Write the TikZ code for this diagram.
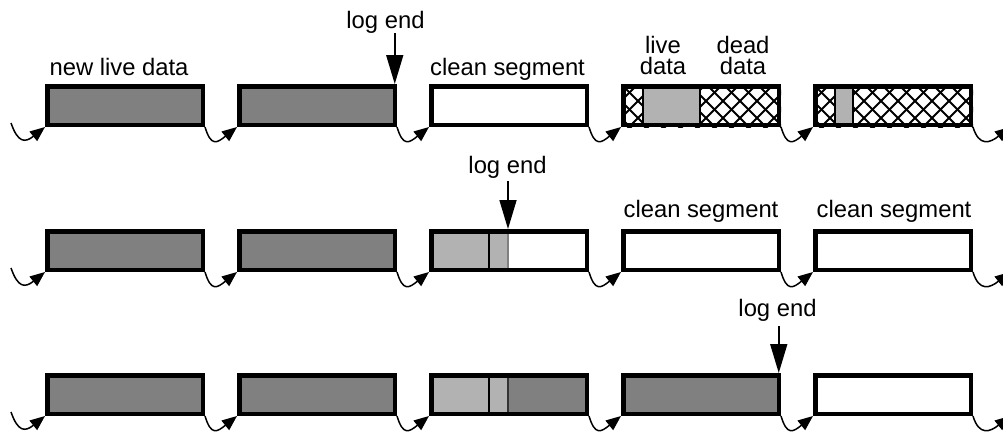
\documentclass[tikz,border=0pt]{standalone}
\usepackage{fontspec}
\setmainfont{Liberation Sans}
\usetikzlibrary{arrows.meta,backgrounds,calc}
\definecolor{darkfill}{gray}{0.5}
\definecolor{lightfill}{gray}{0.7}
\tikzset{
  seg/.style={draw=black, line width=4.5pt, minimum width=155.5pt, minimum height=38.5pt, inner sep=0pt, outer sep=2.25pt},
  darkseg/.style={seg, fill=darkfill},
  whiteseg/.style={seg, fill=white},
  lbl/.style={font=\fontsize{23.8}{21}\selectfont, inner sep=0pt, anchor=base},
  link/.style={line width=1.5pt, -{Triangle[length=15pt,width=12pt]}},
  logarrow/.style={line width=1.6pt, -{Triangle[length=29pt,width=17pt]}},
  hatchline/.style={line width=2pt, black},
  divider/.style={line width=1.6pt, black},
}
\begin{document}
\begin{tikzpicture}[x=1pt,y=-1pt]
\useasboundingbox (0,0) rectangle (1003,431);
\clip (0,0) rectangle (1003,431);

% ---------- row 1 ----------
\node[darkseg]  (r1b1) at (125,105.5) {};
\node[darkseg]  (r1b2) at (317,105.5) {};
\node[whiteseg] (r1b3) at (509,105.5) {};
\node[seg]      (r1b4) at (701,105.5) {};
\node[seg]      (r1b5) at (893,105.5) {};

% ---------- row 2 ----------
\node[darkseg]  (r2b1) at (125,250.5) {};
\node[darkseg]  (r2b2) at (317,250.5) {};
\node[seg]      (r2b3) at (509,250.5) {};
\node[whiteseg] (r2b4) at (701,250.5) {};
\node[whiteseg] (r2b5) at (893,250.5) {};

% ---------- row 3 ----------
\node[darkseg]  (r3b1) at (125,394.5) {};
\node[darkseg]  (r3b2) at (317,394.5) {};
\node[seg]      (r3b3) at (509,394.5) {};
\node[darkseg]  (r3b4) at (701,394.5) {};
\node[whiteseg] (r3b5) at (893,394.5) {};

\begin{pgfonlayer}{background}
  % row 1, box 4: hatched with live data
  \begin{scope}
    \clip (r1b4.north west) rectangle (r1b4.south east);
    \foreach \k in {-3,...,12} {
      \draw[hatchline] ($(r1b4.north west)+(\k*17,0)$) -- ++(50,50);
      \draw[hatchline] ($(r1b4.north west)+(\k*17,0)$) -- ++(-50,50);
    }
  \end{scope}
  \fill[lightfill] ($(r1b4.north west)+(22,0)$) rectangle ($(r1b4.south west)+(79,0)$);
  \draw[divider] ($(r1b4.north west)+(22,0)$) -- ($(r1b4.south west)+(22,0)$);
  \draw[divider] ($(r1b4.north west)+(79,0)$) -- ($(r1b4.south west)+(79,0)$);
  % row 1, box 5
  \begin{scope}
    \clip (r1b5.north west) rectangle (r1b5.south east);
    \foreach \k in {-3,...,12} {
      \draw[hatchline] ($(r1b5.north west)+(\k*17,0)$) -- ++(50,50);
      \draw[hatchline] ($(r1b5.north west)+(\k*17,0)$) -- ++(-50,50);
    }
  \end{scope}
  \fill[lightfill] ($(r1b5.north west)+(22,0)$) rectangle ($(r1b5.south west)+(40,0)$);
  \draw[divider] ($(r1b5.north west)+(22,0)$) -- ($(r1b5.south west)+(22,0)$);
  \draw[divider] ($(r1b5.north west)+(40,0)$) -- ($(r1b5.south west)+(40,0)$);
  % row 2, box 3
  \fill[white] (r2b3.north west) rectangle (r2b3.south east);
  \fill[lightfill] (r2b3.north west) rectangle ($(r2b3.south west)+(79,0)$);
  \draw[divider] ($(r2b3.north west)+(60,0)$) -- ($(r2b3.south west)+(60,0)$);
  \draw[line width=1.2pt, gray] ($(r2b3.north west)+(79,0)$) -- ($(r2b3.south west)+(79,0)$);
  % row 3, box 3
  \fill[darkfill] (r3b3.north west) rectangle (r3b3.south east);
  \fill[lightfill] (r3b3.north west) rectangle ($(r3b3.south west)+(79,0)$);
  \draw[divider] ($(r3b3.north west)+(60,0)$) -- ($(r3b3.south west)+(60,0)$);
  \draw[line width=1.2pt, black!80] ($(r3b3.north west)+(79,0)$) -- ($(r3b3.south west)+(79,0)$);
\end{pgfonlayer}

% ---------- labels ----------
\node[lbl] (l1) at (119,75) {new live data};
\node[lbl] (l2) at (507.5,75) {clean segment};
\node[lbl, align=center] (l3) at (663,74) {live\\data};
\node[lbl, align=center] (l4) at (743,74) {dead\\data};
\node[lbl] (l5) at (701,217) {clean segment};
\node[lbl] (l6) at (894,217) {clean segment};

% ---------- log end markers ----------
\node[lbl] (le1) at (385.5,28) {log end};
\coordinate (t1) at ([xshift=-2.25pt]r1b2.north east);
\draw[logarrow] (le1.south -| t1) -- (t1);
\node[lbl] (le2) at (507.5,173) {log end};
\coordinate (t2) at ($(r2b3.north west)+(79,0)$);
\draw[logarrow] ([yshift=-3pt]le2.south -| t2) -- (t2);
\node[lbl] (le3) at (777.5,316) {log end};
\coordinate (t3) at ([xshift=-2.25pt]r3b4.north east);
\draw[logarrow] ([yshift=-5pt]le3.south -| t3) -- (t3);

% ---------- chain links ----------
\foreach \r/\y in {1/123,2/268,3/412} {
  \coordinate (s\r) at (11,\y);
  \coordinate (e\r) at (1010,\y+4);
  \draw[link] (s\r) .. controls +(7,20) and +(-20,16) .. (r\r b1.south west);
  \draw[link] (r\r b1.south east) .. controls +(6,20) and +(-20,16) .. (r\r b2.south west);
  \draw[link] (r\r b2.south east) .. controls +(6,20) and +(-20,16) .. (r\r b3.south west);
  \draw[link] (r\r b3.south east) .. controls +(6,20) and +(-20,16) .. (r\r b4.south west);
  \draw[link] (r\r b4.south east) .. controls +(6,20) and +(-20,16) .. (r\r b5.south west);
  \draw[link] (r\r b5.south east) .. controls +(6,20) and +(-20,16) .. (e\r);
}
\end{tikzpicture}
\end{document}
